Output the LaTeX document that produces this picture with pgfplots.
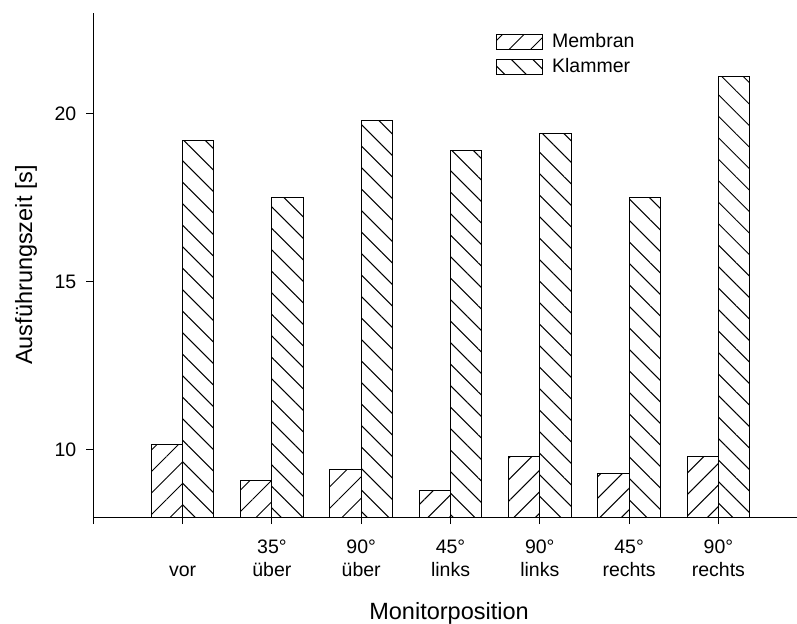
\documentclass[border=0pt]{standalone}
\usepackage{fontspec}
\setmainfont{Liberation Sans}
\usepackage{pgfplots}
\pgfplotsset{compat=1.18}
\usetikzlibrary{patterns.meta}
\newcommand\fs{\fontsize{9.75pt}{11.7pt}\selectfont}
\newcommand\fl{\fontsize{11.75pt}{14pt}\selectfont}
\begin{document}
\begin{tikzpicture}
\begin{axis}[
  at={(46.65pt,53pt)}, anchor=south west,
  width=351.85pt, height=252pt, scale only axis,
  xmin=-1, xmax=6.88, ymin=8, ymax=23,
  axis lines*=left,
  axis line style={black, line width=0.5pt},
  xtick={-1,0,1,2,3,4,5,6},
  xticklabels={{}, {\phantom{0}\\vor}, {35°\\über}, {90°\\über}, {45°\\links}, {90°\\links}, {45°\\rechts}, {90°\\rechts}},
  xticklabel style={align=center, font=\fs, yshift=-4.25pt},
  yticklabel style={font=\fs, xshift=-1.5pt},
  ytick={10,15,20},
  tick align=outside, major tick length=3.5pt,
  tick style={black, line width=0.5pt},
  /pgf/number format/assume math mode=true,
  xlabel={Monitorposition},
  ylabel={Ausführungszeit [s]},
  xlabel style={at={(axis description cs:0.5055,-0.1905)}, anchor=center, font=\fl},
  ylabel style={at={(axis description cs:-0.0956,0.5)}, anchor=center, font=\fl},
  legend style={at={(axis description cs:0.571,0.9677)}, anchor=north west, draw=none, fill=none, font=\fs,
    inner sep=0pt, row sep=0pt, column sep=3.3pt, nodes={inner sep=1.5pt, text height=7.5pt, text depth=2pt}, cells={anchor=west}},
  mylegend/.style={legend image code/.code={\draw[##1,line width=0.5pt] (0pt,-3.75pt) rectangle (23pt,3.75pt);}},
]
\addplot[ybar, bar width=0.35, bar shift=-0.175, draw=black, line width=0.5pt,
  pattern={Lines[angle=45,distance=7.6pt,line width=0.5pt]}, mylegend]
  coordinates {(0,10.15) (1,9.1) (2,9.4) (3,8.8) (4,9.8) (5,9.3) (6,9.8)};
\addlegendentry{Membran}
\addplot[ybar, bar width=0.35, bar shift=0.175, draw=black, line width=0.5pt,
  pattern={Lines[angle=-45,distance=7.6pt,line width=0.5pt]}, mylegend]
  coordinates {(0,19.2) (1,17.5) (2,19.8) (3,18.9) (4,19.4) (5,17.5) (6,21.1)};
\addlegendentry{Klammer}
\end{axis}
\pgfresetboundingbox
\path (0,0) rectangle (398.5pt,311.5pt);
\end{tikzpicture}
\end{document}
